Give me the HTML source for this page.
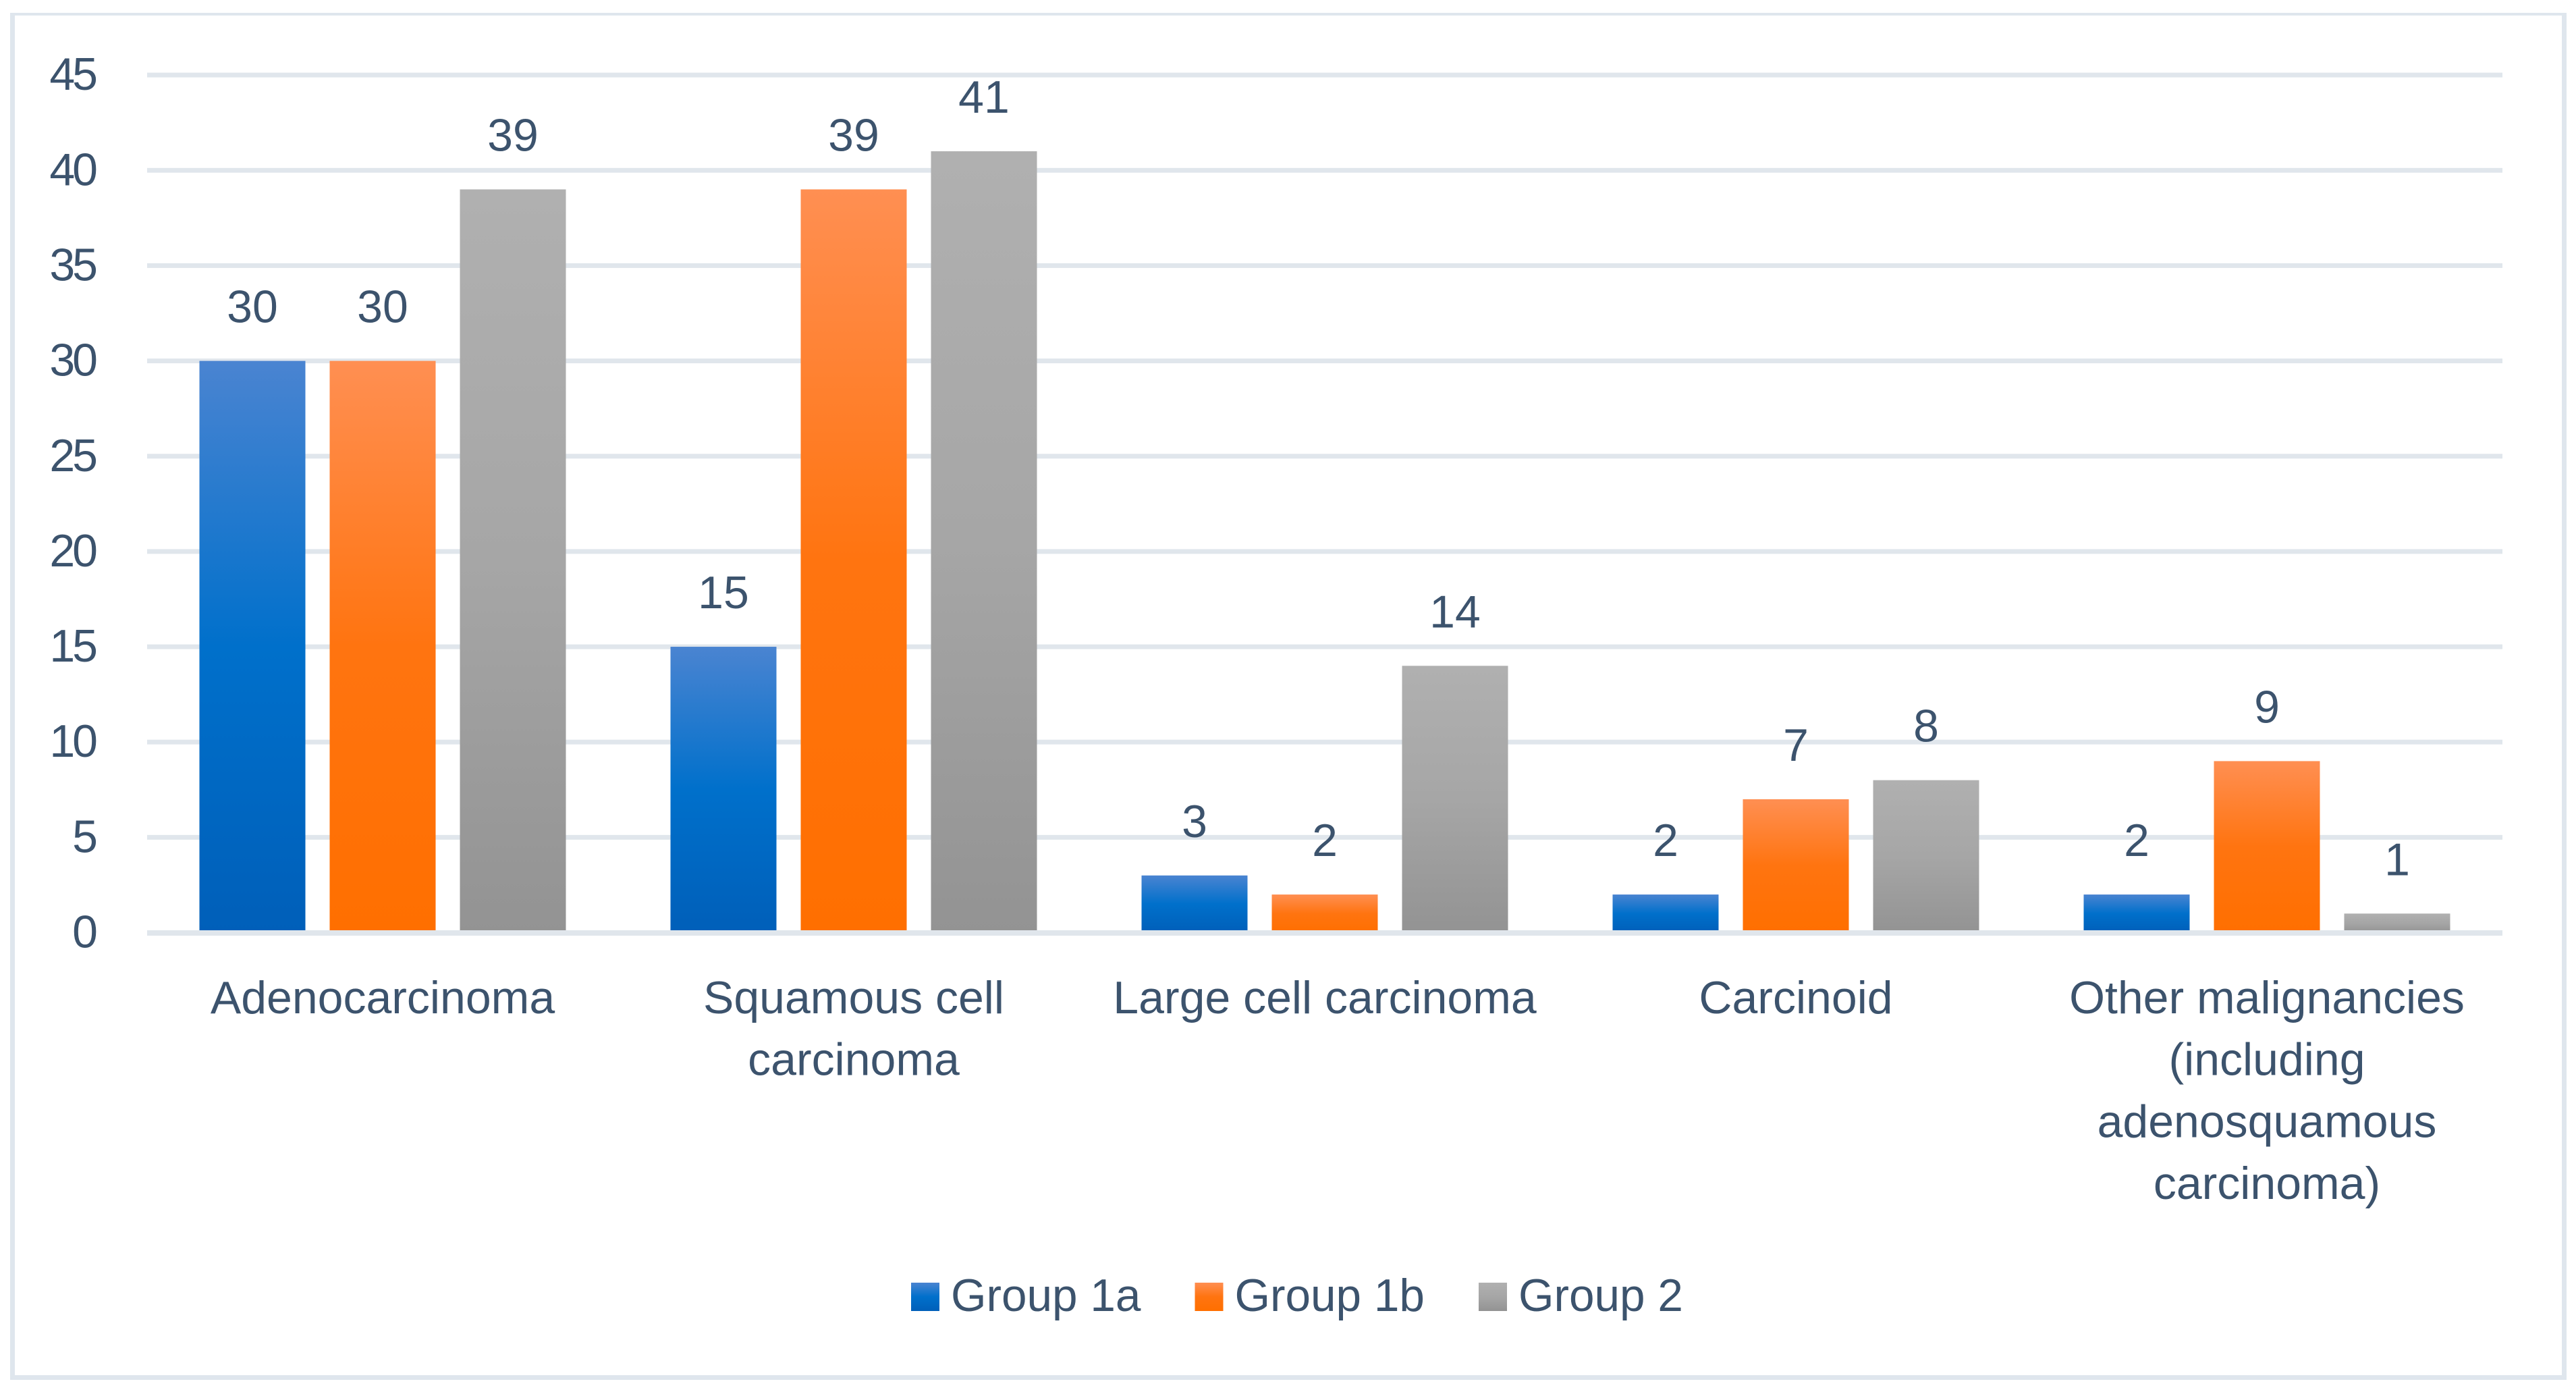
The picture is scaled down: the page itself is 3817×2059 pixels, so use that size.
<!DOCTYPE html>
<html lang="en">
<head>
<meta charset="utf-8">
<title>Histology by group chart</title>
<style>
html,body{margin:0;padding:0;background:#fff;}
body{width:3817px;height:2059px;overflow:hidden;}
svg{display:block;}
text{font-family:"Liberation Sans",sans-serif;fill:#3c536d;font-size:68px;}
</style>
</head>
<body>
<svg id="chart" xmlns="http://www.w3.org/2000/svg" width="3817" height="2059" viewBox="0 0 3817 2059">
  <defs>
    <linearGradient id="grad-0" x1="0" y1="0" x2="0" y2="1">
      <stop offset="0" stop-color="#4a84d1"/><stop offset="0.5" stop-color="#0070cb"/><stop offset="1" stop-color="#005fb9"/>
    </linearGradient>
    <linearGradient id="grad-1" x1="0" y1="0" x2="0" y2="1">
      <stop offset="0" stop-color="#ff8f52"/><stop offset="0.5" stop-color="#ff7410"/><stop offset="1" stop-color="#ff6f00"/>
    </linearGradient>
    <linearGradient id="grad-2" x1="0" y1="0" x2="0" y2="1">
      <stop offset="0" stop-color="#b0b0b0"/><stop offset="0.5" stop-color="#a6a6a6"/><stop offset="1" stop-color="#939393"/>
    </linearGradient>
  </defs>
  <rect x="0" y="0" width="3817" height="2059" fill="#ffffff"/>
  <g fill="#dfe6ed">
    <rect x="15" y="19" width="3788" height="4"/>
    <rect x="15" y="19" width="7" height="2025"/>
    <rect x="3796" y="19" width="7" height="2025"/>
    <rect x="15" y="2037" width="3788" height="7"/>
  </g>
  <g id="grid"></g>
  <g id="bars"></g>
  <g id="axis"></g>
  <g id="ticks"></g>
  <g id="values"></g>
  <g id="cats"></g>
  <g id="legend"></g>
</svg>
<script>
const categories = [
  ["Adenocarcinoma"],
  ["Squamous cell", "carcinoma"],
  ["Large cell carcinoma"],
  ["Carcinoid"],
  ["Other malignancies", "(including", "adenosquamous", "carcinoma)"]
];
const seriesNames = ["Group 1a", "Group 1b", "Group 2"];
const group1a = [30, 15, 3, 2, 2];
const group1b = [30, 39, 2, 7, 9];
const group2 = [39, 41, 14, 8, 1];
const yTicks = [0, 5, 10, 15, 20, 25, 30, 35, 40, 45];

const allSeries = [group1a, group1b, group2];
const NS = "http://www.w3.org/2000/svg";
const plotLeft = 218, plotRight = 3708, yZero = 1381.5, unit = 28.23;
const band = (plotRight - plotLeft) / categories.length;
const barW = 157, barPitch = 193;
const xBand = i => plotLeft + band * (i + 0.5);
const xBar = (c, s) => xBand(c) + (s - 1) * barPitch - barW / 2;
const y = v => yZero - v * unit;

function make(tag, attrs, parent, content) {
  const el = document.createElementNS(NS, tag);
  for (const k in attrs) el.setAttribute(k, attrs[k]);
  if (content !== undefined) el.textContent = content;
  document.getElementById(parent).appendChild(el);
  return el;
}

yTicks.forEach(t => {
  if (t !== 0) {
    const g = make("rect", {x: plotLeft, y: y(t) - 3.5, width: plotRight - plotLeft, height: 7, fill: "#e0e6ec"}, "grid");
    
    
  }
  const l = make("text", {x: 141, y: y(t) + 22, "text-anchor": "end", style: "letter-spacing:-4px"}, "ticks", t);
  
  
});

allSeries.forEach((vals, s) => {
  vals.forEach((v, c) => {
    const b = make("rect", {x: xBar(c, s), y: y(v), width: barW, height: v * unit, fill: "url(#grad-" + s + ")"}, "bars");
    
    
    const t = make("text", {x: xBar(c, s) + barW / 2, y: y(v) - 57, "text-anchor": "middle"}, "values", v);
    
    
  });
});

const axisLine = make("rect", {x: plotLeft, y: yZero - 3.5, width: plotRight - plotLeft, height: 8, fill: "#e0e6ec"}, "axis");



categories.forEach((lines, c) => {
  lines.forEach((line, n) => {
    const t = make("text", {x: xBand(c), y: 1501 + n * 91.7, "text-anchor": "middle"}, "cats", line);
    
    
  });
});

seriesNames.forEach((name, s) => {
  const lx = 1350 + s * 420.5;
  const sw = make("rect", {x: lx, y: 1900, width: 42, height: 42, fill: "url(#grad-" + s + ")"}, "legend");
  
  
  const t = make("text", {x: lx + 59, y: 1942, style: "font-size:67.5px"}, "legend", name);
  
  
});
</script>
</body>
</html>
